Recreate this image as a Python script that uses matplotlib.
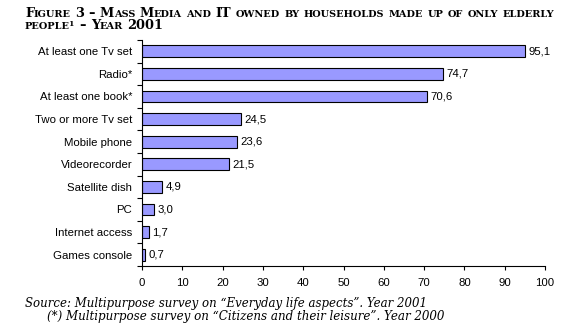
import matplotlib
matplotlib.use("Agg")
import matplotlib.pyplot as plt
import numpy as np

categories = ["At least one Tv set", "Radio*", "At least one book*", "Two or more Tv set",
              "Mobile phone", "Videorecorder", "Satellite dish", "PC",
              "Internet access", "Games console"]
values = [95.1, 74.7, 70.6, 24.5, 23.6, 21.5, 4.9, 3.0, 1.7, 0.7]
xticks = list(range(0, 101, 10))

W, H = 588, 335
fig = plt.figure(figsize=(W / 100, H / 100), dpi=100)
ax = fig.add_axes([142 / W, 1 - 266 / H, (545 - 142) / W, (266 - 40) / H])

y = np.arange(len(categories))
ax.barh(y, values, height=0.53, color="#9999ff", edgecolor="black", linewidth=0.8)
for yi, v in zip(y, values):
    ax.text(v + 0.9, yi, f"{v:.1f}".replace(".", ","), va="center", ha="left",
            fontsize=8.2, family="Liberation Sans")

ax.set_ylim(len(categories) - 0.5, -0.5)
ax.set_xlim(0, 100)
ax.set_yticks(y)
ax.set_yticklabels(categories, fontsize=8.2, family="Liberation Sans")
ax.set_yticks(np.arange(-0.5, len(categories)), minor=True)
ax.tick_params(axis="y", which="major", length=0, pad=7)
ax.tick_params(axis="y", which="minor", length=3.5, width=0.8)
ax.set_xticks(xticks)
ax.set_xticklabels([str(t) for t in xticks], fontsize=8.2, family="Liberation Sans")
ax.tick_params(axis="x", length=3, width=0.8, pad=6)
for s in ("top", "right"):
    ax.spines[s].set_visible(False)
for s in ("left", "bottom"):
    ax.spines[s].set_linewidth(0.8)

renderer = fig.canvas.get_renderer()
SERIF = "DejaVu Serif"


def text_width(s, size):
    t = fig.text(0, 0, s, fontsize=size, family=SERIF, weight="bold")
    w = t.get_window_extent(renderer).width
    t.remove()
    return w


def small_caps(x, y, text, big=9.3, small=7.0):
    # draws a line in small caps: capitals and digits full size, lower case shrunk
    px = x
    space = text_width("a a", small) - text_width("aa", small) + 1
    for word in text.split(" "):
        runs = []
        for ch in word:
            if ch == "¹":
                kind = "sup"
            elif ch.islower():
                kind = "small"
            else:
                kind = "big"
            if runs and runs[-1][0] == kind:
                runs[-1][1] += ch
            else:
                runs.append([kind, ch])
        for kind, s in runs:
            if kind == "sup":
                t = fig.text((px - 1.5) / W, 1 - (y - 3) / H, "1", fontsize=5.5,
                             family=SERIF, weight="bold", va="baseline")
            else:
                t = fig.text(px / W, 1 - y / H, s.upper(),
                             fontsize=big if kind == "big" else small,
                             family=SERIF, weight="bold", va="baseline")
            px += t.get_window_extent(renderer).width
        px += space


small_caps(25, 17, "Figure 3 – Mass Media and IT owned by households made up of only elderly")
small_caps(25, 29, "people¹ – Year 2001")

fig.text(25 / W, 1 - 307 / H, "Source: Multipurpose survey on “Everyday life aspects”. Year 2001",
         fontsize=8.5, family=SERIF, style="italic", va="baseline")
fig.text(47 / W, 1 - 320 / H, "(*) Multipurpose survey on “Citizens and their leisure”. Year 2000",
         fontsize=8.6, family=SERIF, style="italic", va="baseline")

fig.savefig("out.png", dpi=100)
